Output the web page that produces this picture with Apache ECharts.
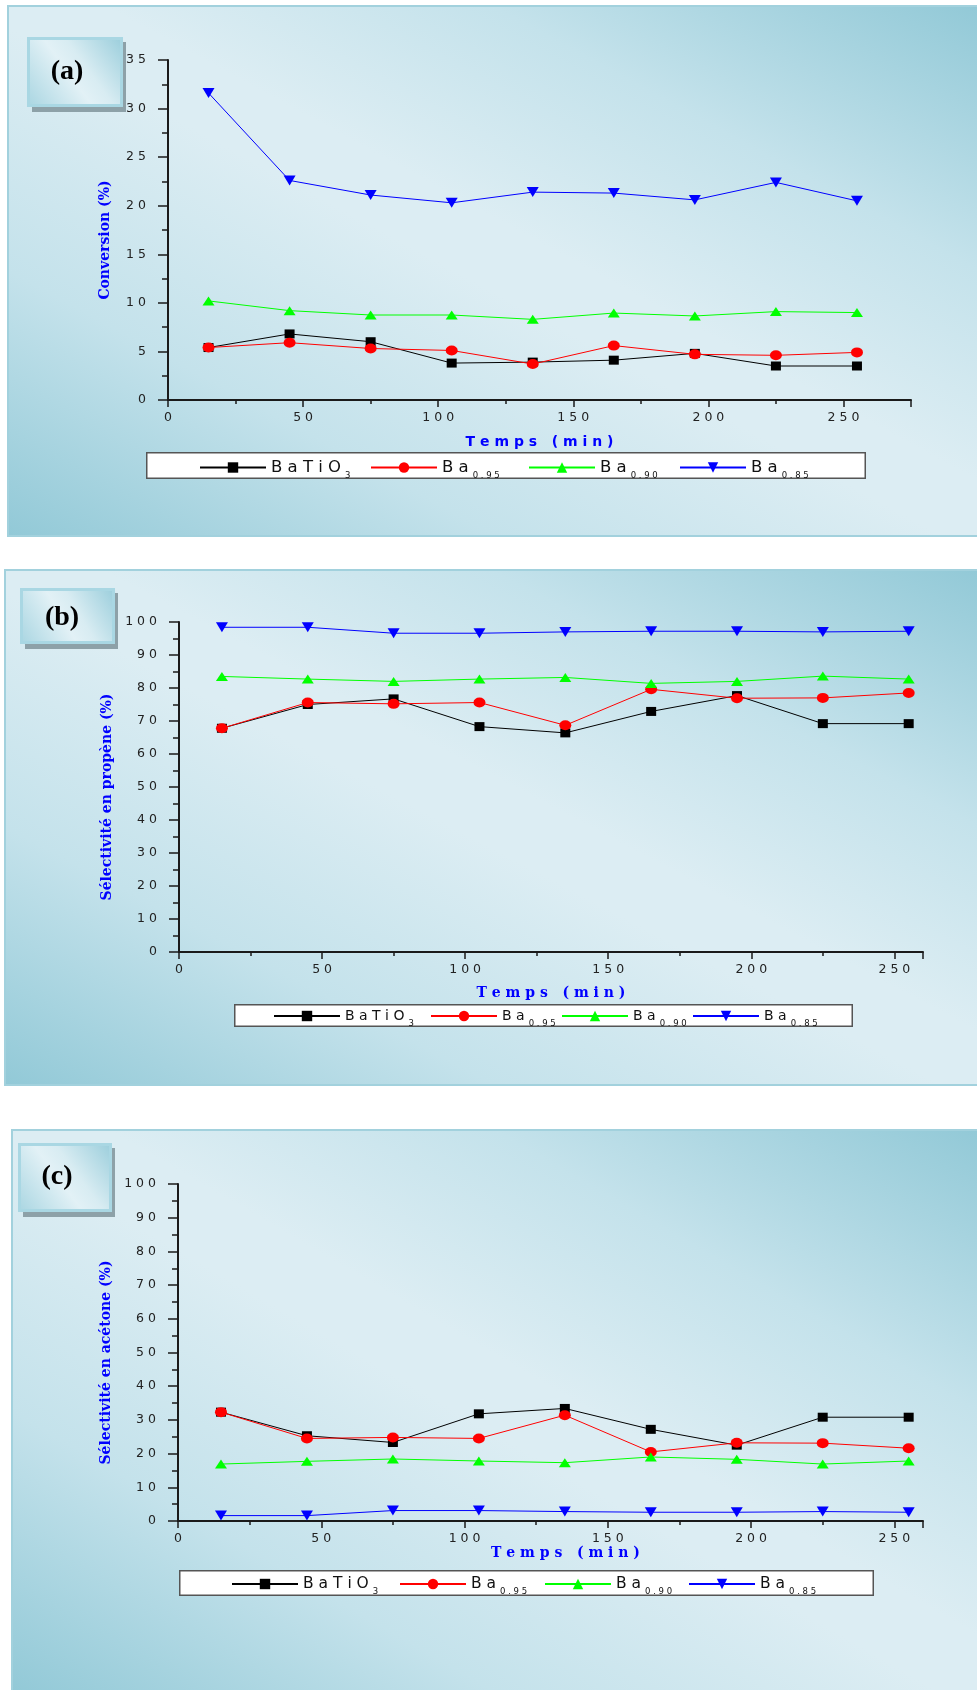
<!DOCTYPE html>
<html><head><meta charset="utf-8">
<script src="https://cdn.jsdelivr.net/npm/echarts@6/dist/echarts.min.js"></script>
<style>
html,body{margin:0;padding:0;background:#fff;}
#wrap{position:relative;width:977px;height:1690px;overflow:hidden;}
.panel{position:absolute;box-sizing:border-box;border:2px solid #a2d1dd;
background:linear-gradient(to top right,#92c9d7 0%,#c4e2eb 25%,#dcedf3 48%,#dcedf3 55%,#c4e2eb 75%,#92c9d7 100%);}
#chart{position:absolute;left:0;top:0;width:977px;height:1690px;}
</style></head><body>
<div id="wrap">
<div class="panel" style="left:7px;top:5px;width:975px;height:532px"></div>
<div class="panel" style="left:4px;top:569px;width:978px;height:517px"></div>
<div class="panel" style="left:11px;top:1129px;width:971px;height:566px"></div>
<div id="chart"></div>
</div>
<script>
// ---- data ----
const times = [15, 45, 75, 105, 135, 165, 195, 225, 255];
const seriesNames = ['BaTiO3', 'Ba0.95', 'Ba0.90', 'Ba0.85'];

// (a) Conversion (%)
const convBaTiO3 = [5.4, 6.8, 6.0, 3.8, 3.9, 4.1, 4.8, 3.5, 3.5];
const convBa095  = [5.4, 5.9, 5.3, 5.1, 3.7, 5.6, 4.7, 4.6, 4.9];
const convBa090  = [10.2, 9.2, 8.75, 8.75, 8.3, 8.95, 8.65, 9.1, 9.0];
const convBa085  = [31.6, 22.6, 21.1, 20.3, 21.4, 21.3, 20.6, 22.4, 20.5];

// (b) Sélectivité en propène (%)
const propBaTiO3 = [67.8, 75.0, 76.7, 68.3, 66.4, 72.9, 77.7, 69.2, 69.2];
const propBa095  = [67.8, 75.6, 75.2, 75.6, 68.7, 79.6, 76.9, 77.0, 78.5];
const propBa090  = [83.5, 82.7, 82.0, 82.7, 83.2, 81.4, 82.0, 83.6, 82.7];
const propBa085  = [98.4, 98.4, 96.6, 96.6, 97.0, 97.2, 97.2, 97.0, 97.2];

// (c) Sélectivité en acétone (%)
const acetBaTiO3 = [32.3, 25.3, 23.3, 31.8, 33.4, 27.2, 22.5, 30.8, 30.8];
const acetBa095  = [32.3, 24.5, 24.8, 24.5, 31.4, 20.5, 23.2, 23.1, 21.6];
const acetBa090  = [16.9, 17.7, 18.4, 17.8, 17.3, 19.0, 18.3, 16.9, 17.8];
const acetBa085  = [1.6, 1.6, 3.1, 3.1, 2.8, 2.6, 2.6, 2.8, 2.6];

const panelLabels = ['(a)', '(b)', '(c)'];
const yTitles = ['Conversion (%)', 'Sélectivité en propène (%)', 'Sélectivité en acétone (%)'];
const xTitle = 'Temps (min)';
const xMax = [275, 260, 260];
const yMax = [35, 100, 100];
const yInterval = [5, 10, 10];

// ---- styling ----
const colors = ['#000000', '#ff0000', '#00ff00', '#0000ff'];
const symbols = ['rect', 'circle', 'triangle', 'triangle'];
const symbolRot = [0, 0, 0, 180];
const symbolSizes = [[10, 9], [12, 10], [12, 9], [12, 10]];

const grids = [
  {left: 168, top: 60, width: 743, height: 340},
  {left: 179, top: 622, width: 744, height: 330},
  {left: 178, top: 1184, width: 745, height: 337}
];

const spaced = s => String(s).split('').join(' ');
const spaceTitle = s => s.split(' ').map(w => w.split('').join(' ')).join('   ');

const panelData = [
  [convBaTiO3, convBa095, convBa090, convBa085],
  [propBaTiO3, propBa095, propBa090, propBa085],
  [acetBaTiO3, acetBa095, acetBa090, acetBa085]
];

const xAxes = [], yAxes = [], series = [], legends = [], graphics = [];
const xTitleFont = ['DejaVu Sans', 'DejaVu Serif', 'DejaVu Serif'];
const xNameGap = [35, 34, 23];
const xNamePad = [[0,0,0,0], [0,0,0,0], [0,0,0,30]];

for (let p = 0; p < 3; p++) {
  xAxes.push({
    type: 'value', gridIndex: p, min: 0, max: xMax[p], interval: 50,
    name: spaceTitle(xTitle), nameLocation: 'middle', nameGap: xNameGap[p],
    nameTextStyle: {color: '#0000ff', fontWeight: 'bold', fontSize: 14, fontFamily: xTitleFont[p], padding: xNamePad[p]},
    axisLine: {show: true, onZero: false, lineStyle: {color: '#1a1a1a', width: 2}},
    axisTick: {show: true, inside: false, length: 7, lineStyle: {color: '#1a1a1a', width: 1.5}},
    minorTick: {show: true, splitNumber: 2, length: 4, lineStyle: {color: '#1a1a1a', width: 1.5}},
    splitLine: {show: false},
    axisLabel: {margin: 11, color: '#222', fontSize: 12.5, fontFamily: 'DejaVu Sans',
      formatter: v => (v % 50 === 0 ? spaced(v) : '')}
  });
  yAxes.push({
    type: 'value', gridIndex: p, min: 0, max: yMax[p], interval: yInterval[p],
    name: yTitles[p], nameLocation: 'middle', nameRotate: 90, nameGap: 56,
    nameTextStyle: {color: '#0000ff', fontWeight: 'bold', fontSize: 14, fontFamily: 'DejaVu Serif', padding: [0, 20, 0, 0]},
    axisLine: {show: true, lineStyle: {color: '#1a1a1a', width: 2}},
    axisTick: {show: true, inside: false, length: 10, lineStyle: {color: '#1a1a1a', width: 1.5}},
    minorTick: {show: true, splitNumber: 2, length: 6, lineStyle: {color: '#1a1a1a', width: 1.5}},
    splitLine: {show: false},
    axisLabel: {margin: 22, color: '#222', fontSize: 12.5, fontFamily: 'DejaVu Sans', formatter: v => spaced(v)}
  });
  for (let s = 0; s < 4; s++) {
    series.push({
      name: seriesNames[s], type: 'line', xAxisIndex: p, yAxisIndex: p,
      data: times.map((t, i) => [t, panelData[p][s][i]]),
      symbol: symbols[s], symbolRotate: symbolRot[s], symbolSize: symbolSizes[s],
      showAllSymbol: true,
      lineStyle: {color: colors[s], width: 1},
      itemStyle: {color: colors[s]},
      emphasis: {disabled: true}
    });
  }
}

const legendLabel = {
  'BaTiO3': '{m|B a T i O}{s|3}',
  'Ba0.95': '{m|B a}{s|0 . 9 5}',
  'Ba0.90': '{m|B a}{s|0 . 9 0}',
  'Ba0.85': '{m|B a}{s|0 . 8 5}'
};
// legend item start positions (px) per panel
const legendX = [[199, 370, 528, 679], [273, 430, 561, 692], [231, 399, 544, 688]];
const legendTop = [459, 1009, 1576];
const legendFont = [16.5, 14, 15.5];
const legendBox = [
  {x: 146, y: 452, w: 720, h: 27},
  {x: 234, y: 1004, w: 619, h: 23},
  {x: 179, y: 1570, w: 695, h: 26}
];
for (let p = 0; p < 3; p++) {
  for (let s = 0; s < 4; s++) {
    legends.push({
      left: legendX[p][s], top: legendTop[p], orient: 'horizontal',
      data: [seriesNames[s]], itemWidth: 66, itemHeight: 13, padding: 0,
      selectedMode: false,
      formatter: n => legendLabel[n],
      textStyle: {
        rich: {
          m: {fontFamily: 'DejaVu Sans', fontSize: legendFont[p], color: '#111', lineHeight: 20},
          s: {fontFamily: 'DejaVu Sans', fontSize: 8.5, color: '#111', padding: [16, 0, 0, 4]}
        }
      }
    });
  }
  graphics.push({
    type: 'rect', z: -1, silent: true,
    shape: {x: legendBox[p].x + 0.75, y: legendBox[p].y + 0.75, width: legendBox[p].w - 1.5, height: legendBox[p].h - 1.5},
    style: {fill: '#ffffff', stroke: '#555555', lineWidth: 1.5}
  });
}

// panel label boxes
const labelBoxes = [
  {x: 27, y: 37, w: 96, h: 70, cx: 67, cy: 72},
  {x: 20, y: 588, w: 95, h: 56, cx: 62, cy: 618},
  {x: 18, y: 1143, w: 94, h: 69, cx: 57, cy: 1177}
];
labelBoxes.forEach((b, p) => {
  graphics.push({type: 'rect', z: -2, silent: true,
    shape: {x: b.x + 5, y: b.y + 5, width: b.w - 2, height: b.h},
    style: {fill: '#8da1a8'}});
  graphics.push({type: 'rect', z: -1, silent: true,
    shape: {x: b.x + 1.5, y: b.y + 1.5, width: b.w - 3, height: b.h - 3},
    style: {
      fill: new echarts.graphic.LinearGradient(0, 1, 1, 0, [
        {offset: 0, color: '#a8d5e1'}, {offset: 0.45, color: '#e2f1f6'},
        {offset: 0.6, color: '#d8ecf2'}, {offset: 1, color: '#99cddb'}]),
      stroke: '#a9d7e3', lineWidth: 3
    }});
  graphics.push({type: 'text', z: 5, silent: true,
    style: {x: b.cx, y: b.cy, text: panelLabels[p], fill: '#000',
      font: 'bold 28px "Liberation Serif", "Times New Roman", serif',
      align: 'center', verticalAlign: 'middle'}});
});

const chart = echarts.init(document.getElementById('chart'), null, {renderer: 'canvas'});
chart.setOption({
  animation: false,
  backgroundColor: 'transparent',
  grid: grids,
  xAxis: xAxes,
  yAxis: yAxes,
  legend: legends,
  series: series,
  graphic: graphics
});
</script>
</body></html>
